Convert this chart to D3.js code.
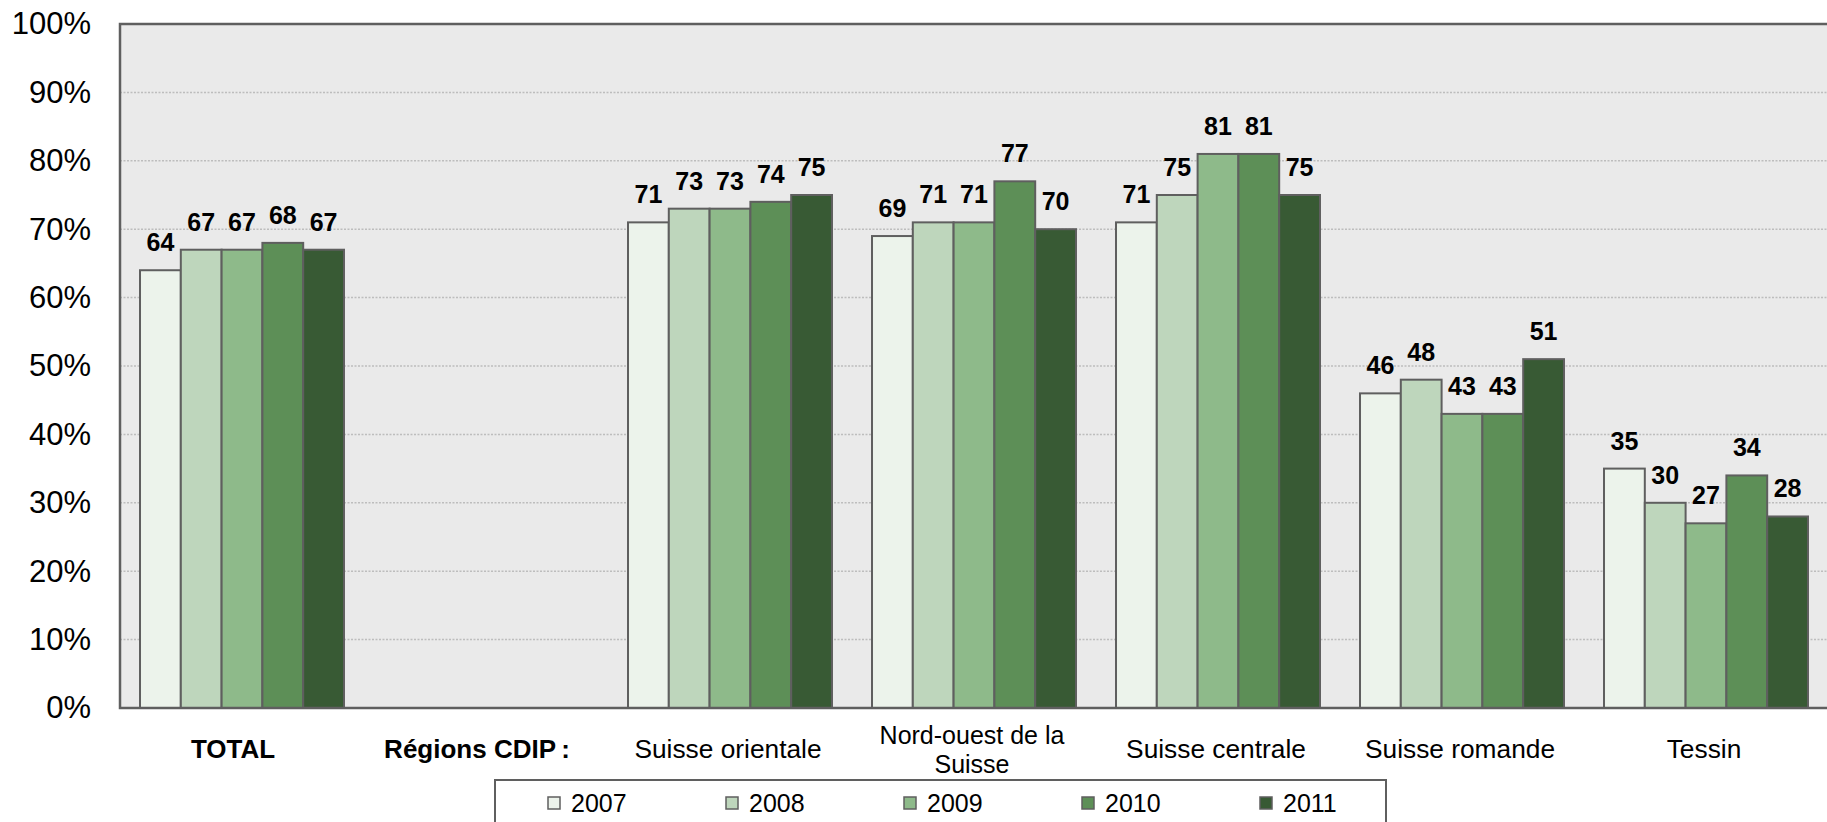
<!DOCTYPE html>
<html>
<head>
<meta charset="utf-8">
<script src="https://cdn.jsdelivr.net/npm/d3@7"></script>
<style>
  html, body { margin: 0; padding: 0; background: #ffffff; }
  svg { display: block; font-family: "Liberation Sans", Arial, sans-serif; }
</style>
</head>
<body>
<svg id="chart" width="1827" height="822"></svg>
<script>
// Categories along the x axis (the second slot is a heading with no bars)
const categories = [
  "TOTAL",
  "Régions CDIP\u2009:",
  "Suisse orientale",
  "Nord-ouest de la\nSuisse",
  "Suisse centrale",
  "Suisse romande",
  "Tessin"
];
const boldCategories = ["TOTAL", "Régions CDIP\u2009:"];

// Series, one array per year (percent)
const years = ["2007", "2008", "2009", "2010", "2011"];
const v2007 = [64, null, 71, 69, 71, 46, 35];
const v2008 = [67, null, 73, 71, 75, 48, 30];
const v2009 = [67, null, 73, 71, 81, 43, 27];
const v2010 = [68, null, 74, 77, 81, 43, 34];
const v2011 = [67, null, 75, 70, 75, 51, 28];
const seriesValues = [v2007, v2008, v2009, v2010, v2011];

// Y axis ticks
const yTicks = [0, 10, 20, 30, 40, 50, 60, 70, 80, 90, 100];

const colors = ["#ecf3eb", "#bed6bc", "#8eba8a", "#5d8f57", "#385a34"];
const edge = "#5f5f5f";

const svg = d3.select("#chart");

const plot = { left: 120, right: 1828, top: 24, bottom: 708 };

const x = d3.scaleBand()
  .domain(categories)
  .range([plot.left, plot.right])
  .paddingInner(0.164)
  .paddingOuter(0.082);

const xYear = d3.scaleBand()
  .domain(years)
  .range([0, x.bandwidth()])
  .padding(0);

const y = d3.scaleLinear()
  .domain([0, 100])
  .range([plot.bottom, plot.top]);

// Plot background
svg.append("rect")
  .attr("x", plot.left)
  .attr("y", plot.top)
  .attr("width", plot.right - plot.left)
  .attr("height", plot.bottom - plot.top)
  .attr("fill", "#eaeaea");

// Dotted horizontal gridlines
svg.append("g")
  .selectAll("line")
  .data(yTicks.filter(t => t > 0 && t < 100))
  .join("line")
  .attr("x1", plot.left)
  .attr("x2", plot.right)
  .attr("y1", d => y(d))
  .attr("y2", d => y(d))
  .attr("stroke", "#bdbdbd")
  .attr("stroke-width", 1.5)
  .attr("stroke-dasharray", "2,1.5");

// Y axis labels
const yAxis = d3.axisLeft(y)
  .tickValues(yTicks)
  .tickFormat(d => d + "%")
  .tickSize(0)
  .tickPadding(29);

const yg = svg.append("g")
  .attr("transform", `translate(${plot.left},0)`)
  .call(yAxis);
yg.select(".domain").remove();
yg.selectAll("text")
  .attr("font-size", 31)
  .attr("fill", "#000")
  .attr("font-family", "Liberation Sans, Arial, sans-serif");

// Bars
const bars = [];
seriesValues.forEach((vals, si) => {
  vals.forEach((v, ci) => {
    if (v !== null) bars.push({ cat: categories[ci], year: years[si], si, v });
  });
});

svg.append("g")
  .selectAll("rect")
  .data(bars)
  .join("rect")
  .attr("x", d => x(d.cat) + xYear(d.year))
  .attr("y", d => y(d.v))
  .attr("width", xYear.bandwidth())
  .attr("height", d => y(0) - y(d.v))
  .attr("fill", d => colors[d.si])
  .attr("stroke", edge)
  .attr("stroke-width", 2);

// Value labels above the bars
svg.append("g")
  .selectAll("text")
  .data(bars)
  .join("text")
  .attr("x", d => x(d.cat) + xYear(d.year) + xYear.bandwidth() / 2)
  .attr("y", d => y(d.v) - 19)
  .attr("text-anchor", "middle")
  .attr("font-size", 25)
  .attr("font-weight", "bold")
  .attr("fill", "#000")
  .text(d => d.v);

// Plot frame: left, top and bottom edges
svg.append("path")
  .attr("d", `M${plot.right},${plot.top}H${plot.left}V${plot.bottom}H${plot.right}`)
  .attr("fill", "none")
  .attr("stroke", edge)
  .attr("stroke-width", 2.5);

// Category labels (wrapped labels get one text per line)
const xg = svg.append("g");
categories.forEach(c => {
  const lines = c.split("\n");
  const bold = boldCategories.includes(c);
  const cx = x(c) + x.bandwidth() / 2 - (bold ? 9 : 2);
  if (lines.length === 1) {
    xg.append("text")
      .attr("x", cx)
      .attr("y", 758)
      .attr("text-anchor", "middle")
      .attr("font-size", bold ? 26 : 26.3)
      .attr("font-weight", bold ? "bold" : "normal")
      .attr("fill", "#000")
      .text(c);
  } else {
    lines.forEach((ln, i) => {
      xg.append("text")
        .attr("x", cx)
        .attr("y", 744 + i * 29)
        .attr("text-anchor", "middle")
        .attr("font-size", 25)
        .attr("fill", "#000")
        .text(ln);
    });
  }
});

// Legend
const legend = svg.append("g");
legend.append("rect")
  .attr("x", 495)
  .attr("y", 780)
  .attr("width", 891)
  .attr("height", 60)
  .attr("fill", "#ffffff")
  .attr("stroke", edge)
  .attr("stroke-width", 2);

const legendX = d3.scalePoint()
  .domain(years)
  .range([548, 1260]);

const items = legend.selectAll("g.item")
  .data(years)
  .join("g")
  .attr("class", "item")
  .attr("transform", d => `translate(${legendX(d)},797)`);

items.append("rect")
  .attr("width", 12)
  .attr("height", 12)
  .attr("fill", (d, i) => colors[i])
  .attr("stroke", edge)
  .attr("stroke-width", 1.5);

items.append("text")
  .attr("x", 23)
  .attr("y", 15)
  .attr("font-size", 25)
  .attr("fill", "#000")
  .text(d => d);
</script>
</body>
</html>
